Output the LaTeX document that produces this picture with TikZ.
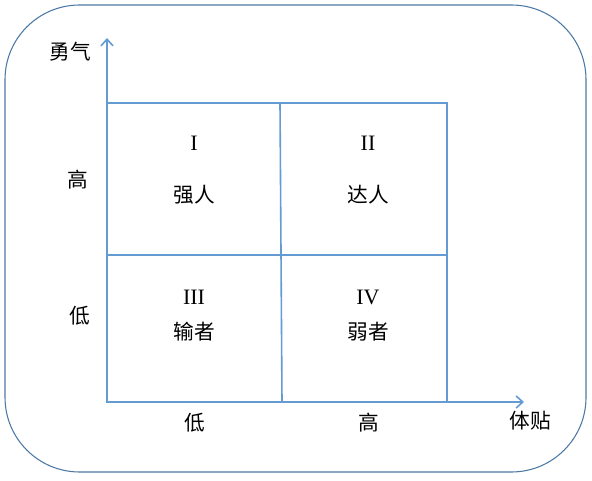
\documentclass[tikz,border=0pt]{standalone}
\usepackage{fontspec}
\setmainfont{Liberation Serif}
\newfontfamily\cjk{Noto Sans CJK SC}
\usetikzlibrary{positioning,arrows.meta}

\definecolor{gridblue}{RGB}{100,155,210}
\definecolor{frameblue}{RGB}{75,120,165}

\begin{document}
\begin{tikzpicture}[
  x=0.75pt, y=-0.75pt,
  font=\cjk\fontsize{15.5}{17}\selectfont,
  frame/.style={draw=frameblue, line width=0.8pt, rounded corners=56pt},
  axis/.style={draw=gridblue, line width=1.2pt, -{Straight Barb[length=5pt,width=9pt]}},
  cell/.style={draw=gridblue, line width=1.2pt},
  lbl/.style={inner sep=1pt},
  num/.style={inner sep=1pt, font=\rmfamily\fontsize{16.5}{17}\selectfont}
]
\useasboundingbox (0,0) rectangle (592,481);
\draw[frame] (5,5) rectangle (586,472);

% axes
\coordinate (o)    at (107,402);
\coordinate (ytip) at (107,38);
\coordinate (xtip) at (524,402);
\draw[axis] (o) -- (ytip);
\draw[axis] (o) -- (xtip);

% grid
\coordinate (tl) at (107,103);
\coordinate (br) at (447,402);
\coordinate (mt) at (280,103);
\coordinate (mb) at (282,402);
\coordinate (ml) at (107,255);
\coordinate (mr) at (447,255);
\draw[cell] (tl) rectangle (br);
\draw[cell] (mt) -- (mb);
\draw[cell] (ml) -- (mr);

% axis labels
\node[lbl] (yname) at (70,52)  {勇气};
\node[lbl] (xname) at (530,421) {体贴};
\node[lbl] (yhi)   at (78,180) {高};
\node[lbl] (ylo)   at (80,316) {低};
\node[lbl] (xlo)   at (195,423) {低};
\node[lbl] (xhi)   at (369,423) {高};

% quadrants
\node[num] (n1) at (194,143) {I};
\node[lbl] (q1) at (194,195) {强人};
\node[num] (n2) at (368,143) {II};
\node[lbl] (q2) at (368,195) {达人};
\node[num] (n3) at (194,297) {III};
\node[lbl] (q3) at (194,332) {输者};
\node[num] (n4) at (368,297) {IV};
\node[lbl] (q4) at (368,332) {弱者};
\end{tikzpicture}
\end{document}
